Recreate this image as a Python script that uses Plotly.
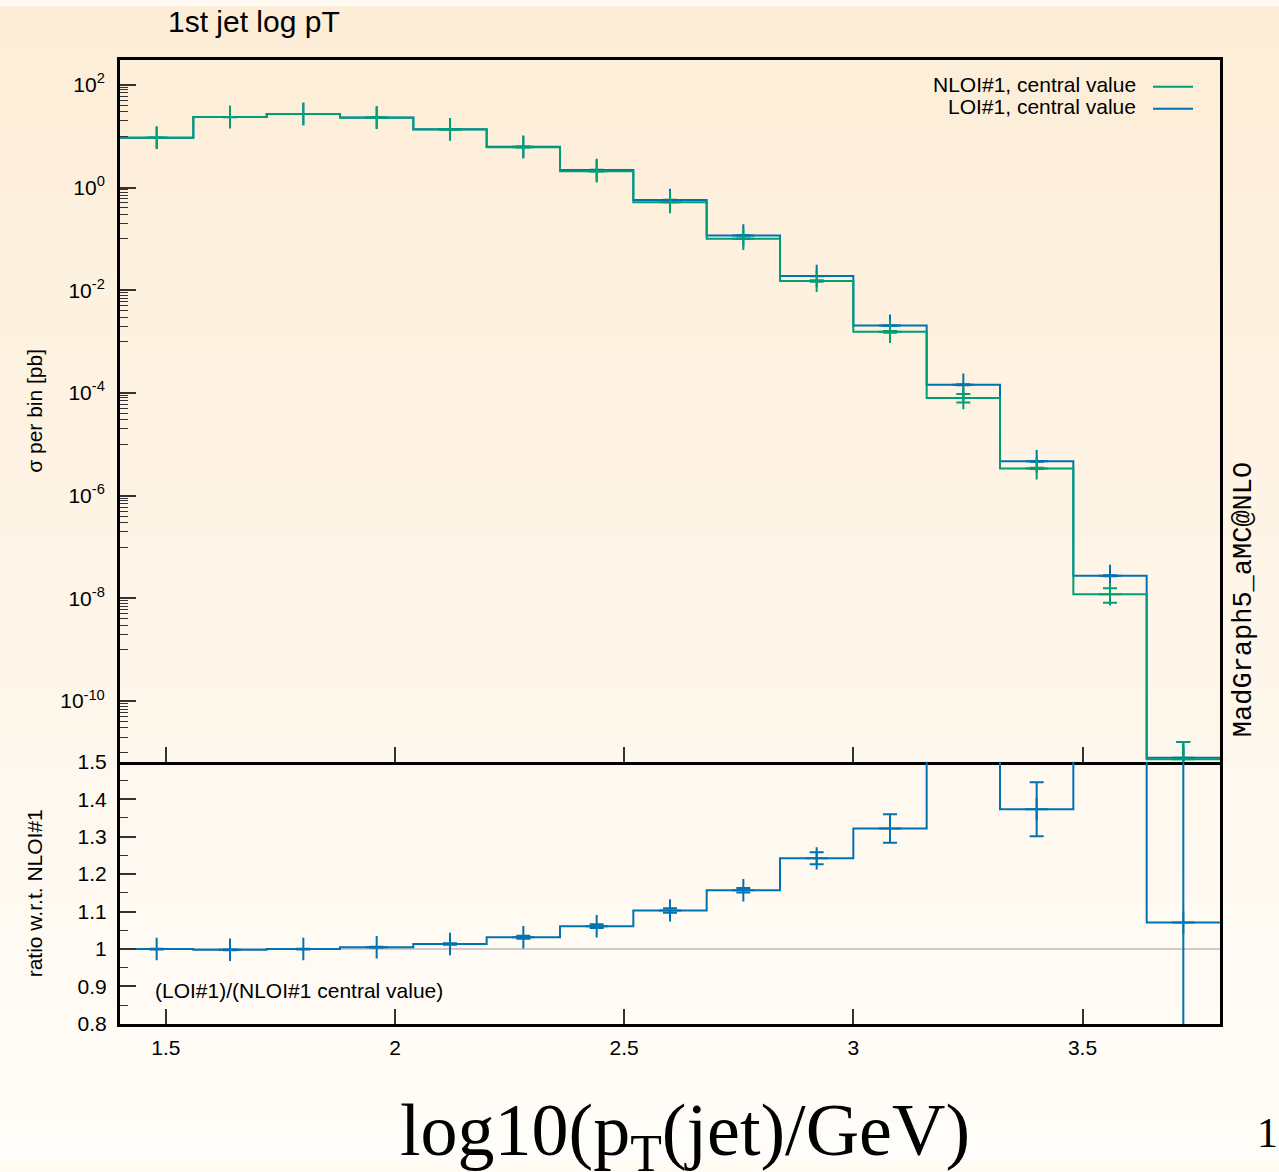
import plotly.graph_objects as go

# ---- histogram binning in log10(pT/GeV) ----
bin_edges = [1.40, 1.56, 1.72, 1.88, 2.04, 2.20, 2.36, 2.52, 2.68,
             2.84, 3.00, 3.16, 3.32, 3.48, 3.64, 3.80]
bin_centers = [1.48, 1.64, 1.80, 1.96, 2.12, 2.28, 2.44, 2.60,
               2.76, 2.92, 3.08, 3.24, 3.40, 3.56, 3.72]

# ---- cross section per bin [pb] ----
nlo_xsec = [9.30, 23.6, 27.0, 22.9, 13.5, 6.06, 2.07, 0.519,
            0.1007, 0.0152, 1.55e-3, 8.0e-5, 3.4e-6, 1.2e-8, 7.4e-12]
nlo_err = [0.047, 0.12, 0.13, 0.11, 0.07, 0.03, 0.011, 0.003,
           0.0008, 0.0005, 6e-5, 1.5e-5, 1.0e-7, 3.8e-9, 8.6e-12]

lo_xsec = [9.30, 23.55, 27.0, 23.01, 13.68, 6.25, 2.196, 0.5725,
           0.1165, 0.01888, 2.049e-3, 1.448e-4, 4.668e-6, 2.748e-8, 7.925e-12]
lo_err = [0.05, 0.12, 0.14, 0.12, 0.07, 0.03, 0.011, 0.003,
          0.0006, 0.0001, 1.5e-5, 3e-6, 8e-8, 6e-10, 8.0e-12]

# uncertainty on LO/NLO ratio
ratio_err = [0.001, 0.001, 0.001, 0.001, 0.002, 0.004, 0.005, 0.006,
             0.006, 0.016, 0.038, 0.3, 0.072, 0.7, 1.0]

# ---- axis tick labels ----
x_ticks = [1.5, 2.0, 2.5, 3.0, 3.5]
x_ticktext = ["1.5", "2", "2.5", "3", "3.5"]
log_major = [1e2, 1e0, 1e-2, 1e-4, 1e-6, 1e-8, 1e-10]
log_major_text = ["10<sup>2</sup>", "10<sup>0</sup>", "10<sup>-2</sup>", "10<sup>-4</sup>",
                  "10<sup>-6</sup>", "10<sup>-8</sup>", "10<sup>-10</sup>"]
ratio_ticks = [0.8, 0.9, 1.0, 1.1, 1.2, 1.3, 1.4, 1.5]
ratio_ticktext = ["0.8", "0.9", "1", "1.1", "1.2", "1.3", "1.4", "1.5"]

GREEN = "#009e73"
BLUE = "#0072b2"
W, H = 1279, 1172
FONT = "Liberation Sans, Arial, Helvetica, sans-serif"

# vertical placement: screen pixel rows -> paper fraction
V_OFF, V_SCALE = 9.96, 0.9834


def px(x):
    return x / W


def py(y):
    return 1 - ((y - V_OFF) / V_SCALE) / H


ratio = [l / n for l, n in zip(lo_xsec, nlo_xsec)]

# minor ticks: 1..9 x 10^(n-1) below each labelled decade
log_minor = [k * m / 10 for m in log_major for k in range(1, 10)]
ratio_minor = [0.85, 0.95, 1.05, 1.15, 1.25, 1.35, 1.45]

fig = go.Figure()


def step(xs, ys):
    return list(xs), list(ys) + [ys[-1]]


# main panel: LO first, NLO drawn over it
for vals, errs, col in [(lo_xsec, lo_err, BLUE), (nlo_xsec, nlo_err, GREEN)]:
    sx, sy = step(bin_edges, vals)
    fig.add_trace(go.Scatter(x=sx, y=sy, mode="lines", line_shape="hv",
                             line=dict(color=col, width=2), hoverinfo="skip",
                             showlegend=False, xaxis="x", yaxis="y"))
    fig.add_trace(go.Scatter(x=bin_centers, y=vals, mode="markers",
                             marker=dict(symbol="cross-thin", size=16,
                                         line=dict(width=2, color=col)),
                             error_y=dict(type="data", array=errs, visible=True,
                                          thickness=2, width=7, color=col),
                             showlegend=False, xaxis="x", yaxis="y"))

# ratio panel
sx, sy = step(bin_edges, ratio)
fig.add_trace(go.Scatter(x=sx, y=sy, mode="lines", line_shape="hv",
                         line=dict(color=BLUE, width=2), hoverinfo="skip",
                         showlegend=False, xaxis="x2", yaxis="y2"))
fig.add_trace(go.Scatter(x=bin_centers, y=ratio, mode="markers",
                         marker=dict(symbol="cross-thin", size=16,
                                     line=dict(width=2, color=BLUE)),
                         error_y=dict(type="data", array=ratio_err, visible=True,
                                      thickness=2, width=7, color=BLUE),
                         showlegend=False, xaxis="x2", yaxis="y2"))

# background: soft vertical gradient from peach (top) to near white (bottom)
shapes = []
top_rgb = (253, 237, 215)
bot_rgb = (255, 253, 249)
N = 120
for i in range(N):
    t = i / (N - 1)
    c = tuple(round(bot_rgb[j] + (top_rgb[j] - bot_rgb[j]) * t) for j in range(3))
    shapes.append(dict(type="rect", xref="paper", yref="paper", layer="below",
                       x0=0, x1=1, y0=i / N, y1=(i + 1.6) / N,
                       fillcolor="rgb(%d,%d,%d)" % c, line=dict(width=0)))

# reference line at ratio = 1
shapes.append(dict(type="line", xref="x2 domain", yref="y2", x0=0, x1=1, y0=1, y1=1,
                   line=dict(color="#bdbdbd", width=1.5), layer="below"))

# legend samples
for yy, col in [(85, GREEN), (107, BLUE)]:
    shapes.append(dict(type="line", xref="paper", yref="paper",
                       x0=px(1153), x1=px(1193), y0=py(yy), y1=py(yy),
                       line=dict(color=col, width=2)))

annotations = [
    dict(text="1st jet log pT", x=px(166), y=py(19), xanchor="left", yanchor="middle",
         font=dict(size=30, family=FONT, color="black")),
    dict(text="NLOI#1, central value", x=px(1138), y=py(83), xanchor="right",
         yanchor="middle", font=dict(size=21, family=FONT, color="black")),
    dict(text="LOI#1, central value", x=px(1138), y=py(105), xanchor="right",
         yanchor="middle", font=dict(size=21, family=FONT, color="black")),
    dict(text="σ per bin [pb]", x=px(35), y=py(410), textangle=-90,
         xanchor="center", yanchor="middle",
         font=dict(size=21, family=FONT, color="black")),
    dict(text="ratio w.r.t. NLOI#1", x=px(34), y=py(894), textangle=-90,
         xanchor="center", yanchor="middle",
         font=dict(size=21, family=FONT, color="black")),
    dict(text="MadGraph5_aMC@NLO", x=px(1244), y=py(600), textangle=-90,
         xanchor="center", yanchor="middle",
         font=dict(size=27, family="Liberation Mono, Courier New, monospace", color="black")),
    dict(text="(LOI#1)/(NLOI#1 central value)", x=px(153), y=py(991),
         xanchor="left", yanchor="middle",
         font=dict(size=21, family=FONT, color="black")),
    dict(text="log10(p<sub>T</sub>(jet)/GeV)", x=px(685), y=py(1137),
         xanchor="center", yanchor="middle",
         font=dict(size=74, family="Liberation Serif, Times New Roman, serif", color="black")),
    dict(text="1", x=px(1267), y=py(1134), xanchor="center", yanchor="middle",
         font=dict(size=42, family="Liberation Serif, Times New Roman, serif", color="black")),
]
for a in annotations:
    a.update(xref="paper", yref="paper", showarrow=False)

dom_x = [px(120), px(1220)]
axis_common = dict(showline=True, linecolor="black", linewidth=3,
                   showgrid=False, zeroline=False, ticks="inside",
                   tickcolor="#333333", tickwidth=1.5,
                   tickfont=dict(size=21, family=FONT, color="black"))

fig.update_layout(
    width=W, height=H,
    margin=dict(l=0, r=0, t=0, b=0),
    paper_bgcolor="#fffaf2",
    plot_bgcolor="rgba(0,0,0,0)",
    showlegend=False,
    shapes=shapes,
    annotations=annotations,
    xaxis=dict(domain=dom_x, anchor="y", range=[1.4, 3.8], mirror=True,
               tickvals=x_ticks, ticklen=15, showticklabels=False, **axis_common),
    yaxis=dict(domain=[py(762), py(58)], anchor="x", type="log", mirror=True,
               range=[-11.18, 2.485], tickvals=log_major, ticktext=log_major_text,
               ticklen=16, ticklabelstandoff=8,
               minor=dict(tickvals=log_minor, ticks="inside", ticklen=8,
                          tickwidth=1.2, tickcolor="#333333"),
               **axis_common),
    xaxis2=dict(domain=dom_x, anchor="y2", range=[1.4, 3.8], matches="x", mirror=False,
                tickvals=x_ticks, ticktext=x_ticktext, ticklen=15,
                ticklabelstandoff=3, **axis_common),
    yaxis2=dict(domain=[py(1025), py(762)], anchor="x2", range=[0.8, 1.5], mirror=True,
                tickvals=ratio_ticks, ticktext=ratio_ticktext, ticklen=16,
                ticklabelstandoff=6,
                minor=dict(tickvals=ratio_minor, ticks="inside", ticklen=8,
                           tickwidth=1.2, tickcolor="#333333"),
                **axis_common),
)

fig.write_html("out.html")
